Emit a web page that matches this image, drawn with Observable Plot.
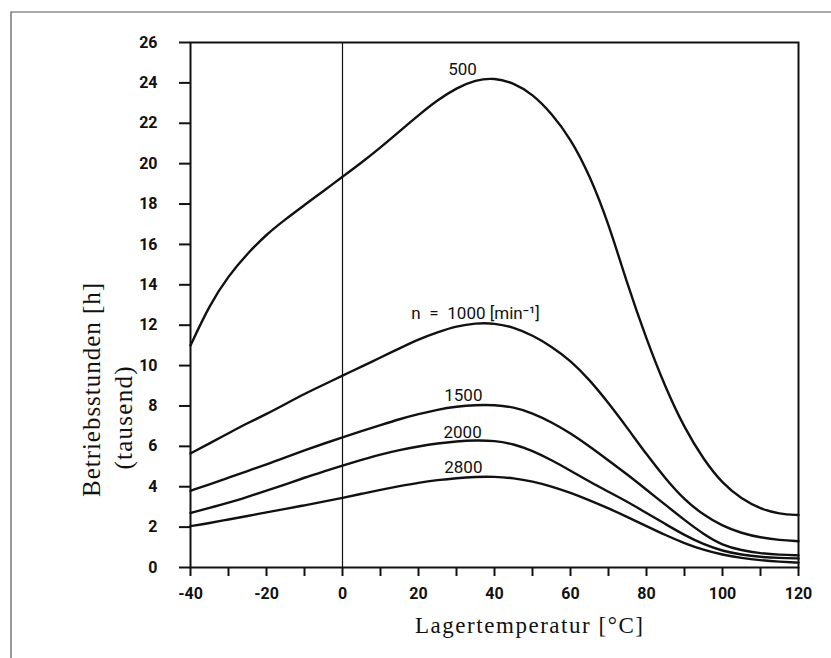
<!DOCTYPE html>
<html><head><meta charset="utf-8">
<script src="https://cdn.jsdelivr.net/npm/d3@7"></script>
<script src="https://cdn.jsdelivr.net/npm/@observablehq/plot@0.6"></script>
<style>
html,body{margin:0;padding:0;background:#fff;}
#chart{width:831px;height:658px;}
</style></head><body><div id="chart"></div>
<script>
// Lagertemperatur [°C]
const temperature = [-40,-35,-30,-25,-20,-15,-10,-5,0,5,10,15,20,25,30,35,40,45,50,55,60,65,70,75,80,85,90,95,100,105,110,115,120];
// Betriebsstunden (tausend) per speed n [min^-1]
const n500  = [11.0,13.0,14.45,15.55,16.5,17.25,17.95,18.65,19.35,20.05,20.8,21.6,22.4,23.15,23.75,24.15,24.25,24.0,23.45,22.5,21.25,19.45,17.05,14.0,11.3,8.9,6.9,5.35,4.15,3.4,2.9,2.65,2.6];
const n1000 = [5.65,6.15,6.65,7.15,7.6,8.1,8.6,9.05,9.5,9.95,10.4,10.85,11.3,11.65,11.95,12.1,12.1,11.9,11.5,10.95,10.25,9.3,8.15,6.9,5.6,4.4,3.35,2.6,2.05,1.7,1.48,1.36,1.3];
const n1500 = [3.8,4.12,4.45,4.78,5.1,5.45,5.8,6.13,6.45,6.75,7.05,7.35,7.6,7.82,7.97,8.05,8.05,7.95,7.65,7.2,6.65,6.0,5.3,4.6,3.85,3.1,2.35,1.65,1.1,0.85,0.7,0.63,0.6];
const n2000 = [2.7,2.95,3.2,3.5,3.8,4.12,4.45,4.75,5.05,5.33,5.6,5.82,6.0,6.15,6.25,6.3,6.28,6.12,5.78,5.32,4.8,4.25,3.75,3.25,2.7,2.15,1.6,1.15,0.82,0.63,0.52,0.47,0.45];
const n2800 = [2.05,2.2,2.38,2.55,2.73,2.9,3.08,3.26,3.45,3.65,3.85,4.03,4.2,4.33,4.43,4.49,4.5,4.43,4.27,4.02,3.7,3.33,2.93,2.5,2.05,1.6,1.2,0.87,0.63,0.47,0.36,0.29,0.24];
const seriesNames = ["500","1000","1500","2000","2800"];
const seriesValues = [n500,n1000,n1500,n2000,n2800];

// curve labels
const labelText = ["500","n\u2002=\u20021000 [min\u207B\u00B9]","1500","2000","2800"];
const labelT = [31.6, 35, 31.8, 31.6, 31.8];
const labelV = [24.64, 12.59, 8.53, 6.69, 4.96];

// ticks
const xTicks = d3.range(-40, 121, 10);
const yTicks = d3.range(0, 27, 2);

const rows = [];
seriesNames.forEach((s, i) => temperature.forEach((t, j) => rows.push({series: s, t, v: seriesValues[i][j]})));
const labels = labelText.map((text, i) => ({text, t: labelT[i], v: labelV[i]}));

const sans = "Roboto, 'DejaVu Sans Condensed', sans-serif";

const plot = Plot.plot({
  width: 831,
  height: 658,
  marginLeft: 190,
  marginRight: 33,
  marginTop: 42,
  marginBottom: 91,
  style: {fontFamily: sans, fontSize: "16px", background: "transparent", color: "#111"},
  x: {domain: [-40, 120], label: null},
  y: {domain: [0, 26], label: null},
  marks: [
    Plot.ruleX([0], {stroke: "#111", strokeWidth: 1.2}),
    Plot.axisX({ticks: xTicks, tickSize: 9, tickPadding: 11, strokeWidth: 2,
      tickFormat: d => d % 20 === 0 ? String(d) : "", fontWeight: "bold", fontSize: 16, label: null}),
    Plot.axisY({ticks: yTicks, tickSize: 11, tickPadding: 22, strokeWidth: 2,
      tickFormat: d => String(d), fontWeight: "bold", fontSize: 16, label: null}),
    Plot.frame({stroke: "#111", strokeWidth: 2}),
    Plot.line(rows, {x: "t", y: "v", z: "series", stroke: "#111", strokeWidth: 2.4, curve: "basis"}),
    Plot.text(labels, {x: "t", y: "v", text: "text", fontSize: 17, fill: "#111", textAnchor: "middle", lineAnchor: "middle"})
  ]
});

const svg = d3.select(plot);
svg.append("path").attr("d", "M11,658V12H831").attr("fill", "none").attr("stroke", "#555").attr("stroke-width", 1.2);
const serif = "'Liberation Serif', 'Times New Roman', serif";
svg.append("text").text("Lagertemperatur [°C]")
  .attr("x", 529).attr("y", 633).attr("text-anchor", "middle")
  .attr("font-family", serif).attr("font-size", 23).attr("fill", "#111")
  .attr("textLength", 228).attr("lengthAdjust", "spacing");
svg.append("text").text("Betriebsstunden [h]")
  .attr("transform", "translate(100,390) rotate(-90)").attr("text-anchor", "middle")
  .attr("font-family", serif).attr("font-size", 25).attr("fill", "#111")
  .attr("textLength", 214).attr("lengthAdjust", "spacing");
svg.append("text").text("(tausend)")
  .attr("transform", "translate(132,418) rotate(-90)").attr("text-anchor", "middle")
  .attr("font-family", serif).attr("font-size", 25).attr("fill", "#111")
  .attr("textLength", 103).attr("lengthAdjust", "spacing");

document.getElementById("chart").appendChild(plot);
</script>
</body></html>
